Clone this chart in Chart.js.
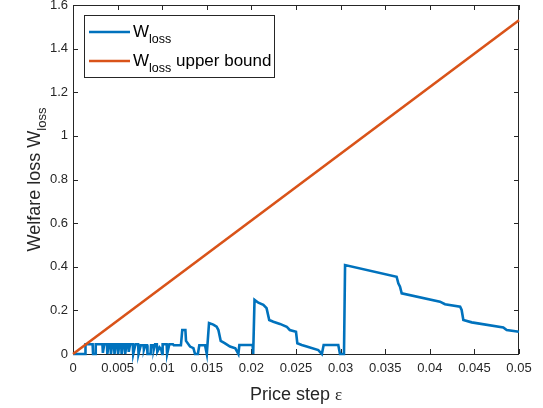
<!DOCTYPE html>
<html><head><meta charset="utf-8">
<style>html,body{margin:0;padding:0;background:#fff}#wrap{width:543px;height:408px}</style>
<script src="https://cdn.jsdelivr.net/npm/chart.js@4/dist/chart.umd.min.js"></script>
</head><body><div id="wrap"><canvas id="c" width="543" height="408"></canvas></div>
<script>
// Price step values (x) and welfare loss (y) for the W_loss series
const xSteps = [0,0.00135,0.0014,0.0022,0.00225,0.0025,0.00255,0.0033,0.00335,0.0035,0.0038,0.00385,0.0040,0.0042,0.00425,0.0044,0.0046,0.00465,0.0048,0.0050,0.00505,0.0052,0.0054,0.00545,0.0056,0.0058,0.00585,0.0060,0.0062,0.00625,0.0064,0.0067,0.00675,0.0070,0.0073,0.00735,0.0076,0.0079,0.00795,0.0081,0.0083,0.00835,0.0087,0.00875,0.0090,0.00905,0.0092,0.0094,0.00945,0.0097,0.0099,0.0100,0.01005,0.0105,0.01055,0.0108,0.0112,0.0113,0.0121,0.01225,0.0126,0.01267,0.01312,0.0135,0.01368,0.0140,0.01416,0.0148,0.0150,0.01525,0.01573,0.0161,0.0163,0.01656,0.0170,0.0176,0.0182,0.01854,0.01865,0.02014,0.0202,0.02035,0.02078,0.02134,0.0217,0.0220,0.02246,0.0232,0.02396,0.0243,0.0250,0.02515,0.02564,0.0262,0.0275,0.0279,0.0281,0.02974,0.02993,0.03038,0.0305,0.03628,0.03647,0.03666,0.03685,0.04114,0.0417,0.0434,0.04357,0.04376,0.0447,0.04824,0.04862,0.05];
const wLoss = [0,0,0.045,0.045,0,0,0.045,0.045,0.005,0.045,0.045,0,0.045,0.045,0,0.045,0.045,0,0.045,0.045,0,0.045,0.045,0,0.045,0.045,0,0.045,0.045,0.01,0.045,0.045,0,0.045,0.045,0,0.04,0.04,0.02,0.04,0.04,0,0,0.04,0.04,0.02,0.045,0.045,0.01,0.03,0.02,0,0.045,0.045,0,0.045,0.045,0.04,0.04,0.11,0.11,0.06,0.034,0.027,0,0,0.04,0.04,0,0.142,0.135,0.125,0.11,0.06,0.05,0.034,0.026,0,0.041,0.041,0,0.248,0.235,0.225,0.21,0.156,0.148,0.138,0.125,0.11,0.102,0.049,0.041,0.034,0.018,0,0.041,0.041,0,0,0.408,0.354,0.324,0.309,0.278,0.240,0.228,0.217,0.202,0.156,0.145,0.122,0.11,0.102];
// Upper bound series
const boundX = [0, 0.05];
const boundY = [0, 1.53];
// Axis ticks
const xTicks = [0,0.005,0.01,0.015,0.02,0.025,0.03,0.035,0.04,0.045,0.05];
const yTicks = [0,0.2,0.4,0.6,0.8,1,1.2,1.4,1.6];

const AX = '#262626';
const FONT = '"Liberation Sans", Arial, Helvetica, sans-serif';

const frame = {
  id: 'frame',
  beforeDatasetsDraw(chart) {
    const {ctx, chartArea: a, scales} = chart;
    ctx.save();
    ctx.strokeStyle = AX; ctx.lineWidth = 1;
    ctx.strokeRect(a.left + 0.5, a.top + 0.5, a.right - a.left - 1, a.bottom - a.top);
    const L = 5;
    ctx.beginPath();
    xTicks.forEach(v => {
      const px = Math.round(scales.x.getPixelForValue(v)) + 0.5;
      ctx.moveTo(px, a.bottom); ctx.lineTo(px, a.bottom - L);
      ctx.moveTo(px, a.top); ctx.lineTo(px, a.top + L);
    });
    yTicks.forEach(v => {
      const py = Math.round(scales.y.getPixelForValue(v)) + 0.5;
      ctx.moveTo(a.left, py); ctx.lineTo(a.left + L, py);
      ctx.moveTo(a.right, py); ctx.lineTo(a.right - L, py);
    });
    ctx.stroke();
    ctx.restore();
  },
  afterDraw(chart) {
    const {ctx, chartArea: a} = chart;
    ctx.save();
    ctx.fillStyle = AX;
    // x title
    ctx.font = '18px ' + FONT;
    ctx.textBaseline = 'alphabetic';
    const t1 = 'Price step ';
    const w1 = ctx.measureText(t1).width;
    ctx.font = '17px "Liberation Serif", serif';
    const w2 = ctx.measureText('\u03B5').width;
    let sx = (a.left + a.right) / 2 - (w1 + w2) / 2;
    ctx.font = '18px ' + FONT;
    ctx.fillText(t1, sx, 400);
    ctx.font = '17px "Liberation Serif", serif';
    ctx.fillText('\u03B5', sx + w1, 400);
    // y title
    ctx.save();
    ctx.translate(40, (a.top + a.bottom) / 2);
    ctx.rotate(-Math.PI / 2);
    ctx.font = '18px ' + FONT;
    const m = 'Welfare loss W';
    const mw = ctx.measureText(m).width;
    ctx.font = '13px ' + FONT;
    const sw = ctx.measureText('loss').width;
    const tot = mw + sw;
    ctx.font = '18px ' + FONT;
    ctx.fillText(m, -tot / 2, 0);
    ctx.font = '13px ' + FONT;
    ctx.fillText('loss', -tot / 2 + mw, 6);
    ctx.restore();
    // legend
    const bx = 84, by = 15, bw = 190, bh = 62;
    ctx.fillStyle = '#fff';
    ctx.fillRect(bx, by, bw, bh);
    ctx.strokeStyle = AX; ctx.lineWidth = 1;
    ctx.strokeRect(bx + 0.5, by + 0.5, bw, bh);
    const items = [
      {c: '#0072BD', y: 32, extra: ''},
      {c: '#D95319', y: 61, extra: ' upper bound'}
    ];
    items.forEach(it => {
      ctx.strokeStyle = it.c; ctx.lineWidth = 2.5;
      ctx.beginPath(); ctx.moveTo(89, it.y); ctx.lineTo(130, it.y); ctx.stroke();
      ctx.fillStyle = '#000';
      ctx.font = '17px ' + FONT;
      ctx.fillText('W', 133, it.y + 5);
      const ww = ctx.measureText('W').width;
      ctx.font = '12.5px ' + FONT;
      ctx.fillText('loss', 133 + ww, it.y + 11);
      const lw = ctx.measureText('loss').width;
      if (it.extra) {
        ctx.font = '17px ' + FONT;
        ctx.fillText(it.extra, 133 + ww + lw, it.y + 5);
      }
    });
    ctx.restore();
  }
};

new Chart(document.getElementById('c'), {
  type: 'line',
  data: {
    datasets: [
      {label: 'W_loss', data: xSteps.map((x, i) => ({x: x, y: wLoss[i]})), borderColor: '#0072BD', backgroundColor: '#0072BD', borderWidth: 2.6, pointRadius: 0, tension: 0, clip: false, order: 1},
      {label: 'W_loss upper bound', data: boundX.map((x, i) => ({x: x, y: boundY[i]})), borderColor: '#D95319', backgroundColor: '#D95319', borderWidth: 2.6, pointRadius: 0, tension: 0, clip: false, order: 0}
    ]
  },
  options: {
    responsive: false, animation: false, devicePixelRatio: 1,
    layout: {padding: {left: 0, right: 24, top: 5, bottom: 0}},
    plugins: {legend: {display: false}, tooltip: {enabled: false}},
    scales: {
      x: {
        type: 'linear', min: 0, max: 0.05,
        afterBuildTicks: s => { s.ticks = xTicks.map(v => ({value: v})); },
        afterFit: s => { s.height = 54; s.paddingLeft = 0; s.paddingRight = 0; },
        ticks: {color: AX, font: {family: FONT, size: 13}, padding: 7, maxRotation: 0, autoSkip: false,
          callback: v => String(Number(v.toFixed(3)))},
        grid: {display: false, drawTicks: false}, border: {display: false}
      },
      y: {
        type: 'linear', min: 0, max: 1.6,
        afterBuildTicks: s => { s.ticks = yTicks.map(v => ({value: v})); },
        afterFit: s => { s.width = 73; s.paddingTop = 0; s.paddingBottom = 0; },
        ticks: {color: AX, font: {family: FONT, size: 13}, padding: 5, autoSkip: false,
          callback: v => String(Number(v.toFixed(1)))},
        grid: {display: false, drawTicks: false}, border: {display: false}
      }
    }
  },
  plugins: [frame]
});
</script>
</body></html>
